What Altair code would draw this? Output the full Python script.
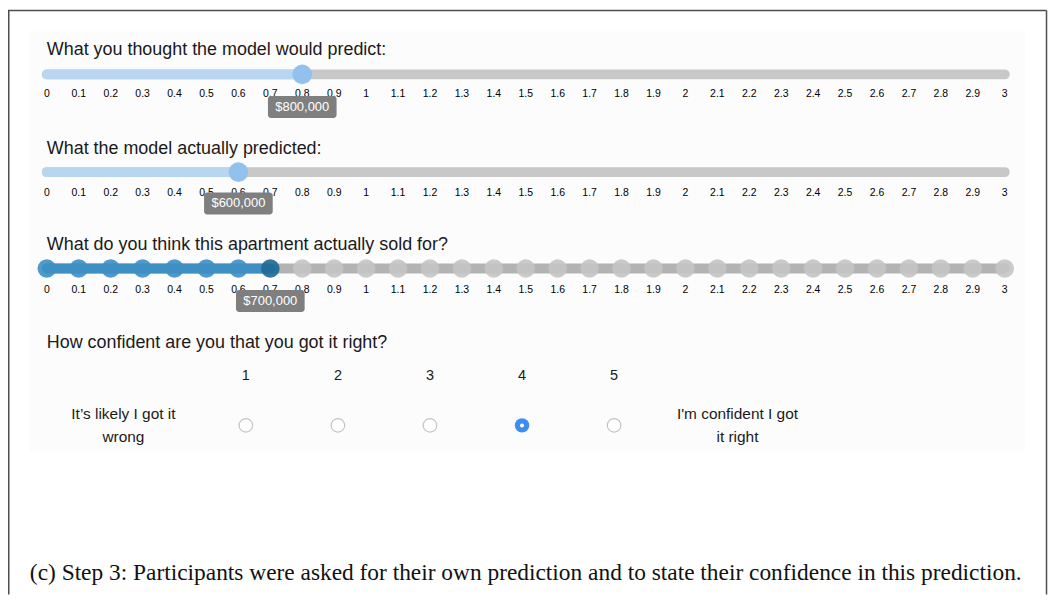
import altair as alt
import pandas as pd

# ---------------- data ----------------
TICK_LABELS = ["0", "0.1", "0.2", "0.3", "0.4", "0.5", "0.6", "0.7", "0.8", "0.9",
               "1", "1.1", "1.2", "1.3", "1.4", "1.5", "1.6", "1.7", "1.8", "1.9",
               "2", "2.1", "2.2", "2.3", "2.4", "2.5", "2.6", "2.7", "2.8", "2.9", "3"]
SLIDER_TITLES = ["What you thought the model would predict:",
                 "What the model actually predicted:",
                 "What do you think this apartment actually sold for?"]
SLIDER_VALUES = [0.8, 0.6, 0.7]
TOOLTIP_LABELS = ["$800,000", "$600,000", "$700,000"]
SLIDER_MIN, SLIDER_MAX = 0, 3

CONF_TITLE = "How confident are you that you got it right?"
CONF_LEVELS = [1, 2, 3, 4, 5]
CONF_SELECTED = 4
CONF_LOW = ["It\u2019s likely I got it", "wrong"]
CONF_HIGH = ["I'm confident I got", "it right"]

CAPTION = ("(c) Step 3: Participants were asked for their own prediction "
           "and to state their confidence in this prediction.")

# ---------------- layout / style ----------------
W, H = 1046, 588
FONT = "Liberation Sans"
TEXT = "#1a1a1a"
TITLE_Y = [41, 140, 237]
TRACK_Y = [65.3, 163.5, 260.3]
LABEL_Y = [85.5, 184, 282]
BOX_Y = [(87, 109), (184, 206), (282, 304)]
BOX_HALF = 0.1075
CONF_TITLE_Y = 335
CONF_NUM_Y = 368
RADIO_Y = 418
SIDE_Y = [407, 430]
SIDE_X = [-0.33, 6.34]
CAPTION_Y = 566

XS = alt.Scale(domain=[SLIDER_MIN, SLIDER_MAX], range=[39, 1001.5])
YS = alt.Scale(domain=[0, H], range=[0, H])
CS = alt.Scale(domain=[1, 5], range=[239, 609])

tick_vals = [float(t) for t in TICK_LABELS]

def X(f, scale=XS):
    return alt.X(f, type="quantitative", scale=scale, axis=None)

def Y(f):
    return alt.Y(f, type="quantitative", scale=YS, axis=None)

one = pd.DataFrame({"k": [0]})
layers = []

# faint panel + frame
layers.append(alt.Chart(one).mark_rect(fill="#fcfcfc").encode(
    x=alt.value(22), x2=alt.value(1022), y=alt.value(22), y2=alt.value(444)))
for enc in [dict(x=alt.value(0), x2=alt.value(1043.5), y=alt.value(1)),
            dict(x=alt.value(0.75), y=alt.value(1), y2=alt.value(H)),
            dict(x=alt.value(1043.5), y=alt.value(1), y2=alt.value(H))]:
    layers.append(alt.Chart(one).mark_rule(color="#4d4d4d", strokeWidth=1.5).encode(**enc))

# slider titles
titles = pd.DataFrame({"t": SLIDER_TITLES, "x": [SLIDER_MIN] * 3, "y": TITLE_Y})
layers.append(alt.Chart(titles).mark_text(align="left", baseline="middle", font=FONT,
                                          fontSize=18, color=TEXT).encode(
    x=X("x"), y=Y("y"), text="t:N"))

# tracks
track_rows = []
fill_cols = ["#b9d6f0", "#b9d6f0", "#3d8fc4"]
bg_cols = ["#c8c8c8", "#c8c8c8", "#b3b3b3"]
for i, v in enumerate(SLIDER_VALUES):
    track_rows.append({"x": SLIDER_MIN, "x2": SLIDER_MAX, "y": TRACK_Y[i], "c": bg_cols[i]})
    track_rows.append({"x": SLIDER_MIN, "x2": v, "y": TRACK_Y[i], "c": fill_cols[i]})
tracks = pd.DataFrame(track_rows)
layers.append(alt.Chart(tracks).mark_rule(strokeWidth=10, strokeCap="round").encode(
    x=X("x"), x2="x2:Q", y=Y("y"), color=alt.Color("c:N", scale=None)))

# step dots on the third slider
v3 = SLIDER_VALUES[2]
dots = pd.DataFrame({
    "x": tick_vals,
    "y": [TRACK_Y[2]] * len(tick_vals),
    "c": ["#1e6894" if abs(t - v3) < 1e-9 else ("#3d8fc4" if t < v3 else "#c4c4c4")
          for t in tick_vals],
})
layers.append(alt.Chart(dots).mark_circle(size=350, opacity=0.9).encode(
    x=X("x"), y=Y("y"), color=alt.Color("c:N", scale=None)))

# handles of first two sliders
handles = pd.DataFrame({"x": SLIDER_VALUES[:2], "y": TRACK_Y[:2]})
layers.append(alt.Chart(handles).mark_circle(size=390, opacity=1, color="#92c1ee").encode(
    x=X("x"), y=Y("y")))

# tick labels
lab_rows = []
for i in range(3):
    for t, v in zip(TICK_LABELS, tick_vals):
        lab_rows.append({"x": v, "y": LABEL_Y[i], "t": t})
labs = pd.DataFrame(lab_rows)
layers.append(alt.Chart(labs).mark_text(align="center", baseline="middle", font=FONT,
                                        fontSize=10.5, color="#000000").encode(
    x=X("x"), y=Y("y"), text="t:N"))

# value tooltips
tips = pd.DataFrame({
    "v": SLIDER_VALUES,
    "t": TOOLTIP_LABELS,
    "y1": [b[0] for b in BOX_Y],
    "y2": [b[1] for b in BOX_Y],
})
tip_base = alt.Chart(tips).transform_calculate(
    x1=f"datum.v - {BOX_HALF}", x2=f"datum.v + {BOX_HALF}", ym="(datum.y1 + datum.y2) / 2")
layers.append(tip_base.mark_rect(fill="#7f7f7f", cornerRadius=3).encode(
    x=X("x1"), x2="x2:Q", y=Y("y1"), y2="y2:Q"))
layers.append(tip_base.mark_text(align="center", baseline="middle", font=FONT,
                                 fontSize=13, color="white").encode(
    x=X("v"), y=Y("ym"), text="t:N"))

# confidence question
ct = pd.DataFrame({"t": [CONF_TITLE], "x": [SLIDER_MIN], "y": [CONF_TITLE_Y]})
layers.append(alt.Chart(ct).mark_text(align="left", baseline="middle", font=FONT,
                                      fontSize=18, color=TEXT).encode(
    x=X("x"), y=Y("y"), text="t:N"))

conf = pd.DataFrame({"lvl": CONF_LEVELS, "t": [str(c) for c in CONF_LEVELS],
                     "yn": [CONF_NUM_Y] * 5, "yr": [RADIO_Y] * 5})
layers.append(alt.Chart(conf).mark_text(align="center", baseline="middle", font=FONT,
                                        fontSize=14.5, color=TEXT).encode(
    x=X("lvl", CS), y=Y("yn"), text="t:N"))
unsel = conf[conf["lvl"] != CONF_SELECTED]
sel = conf[conf["lvl"] == CONF_SELECTED]
layers.append(alt.Chart(unsel).mark_circle(size=185, fill="white", opacity=1,
                                           stroke="#c4c4c4", strokeWidth=1.2).encode(
    x=X("lvl", CS), y=Y("yr")))
layers.append(alt.Chart(sel).mark_circle(size=210, color="#3d8ef0", opacity=1).encode(
    x=X("lvl", CS), y=Y("yr")))
layers.append(alt.Chart(sel).mark_circle(size=16, color="white", opacity=1).encode(
    x=X("lvl", CS), y=Y("yr")))

side_rows = []
for lines, sx in [(CONF_LOW, SIDE_X[0]), (CONF_HIGH, SIDE_X[1])]:
    for ln, yy in zip(lines, SIDE_Y):
        side_rows.append({"x": sx, "y": yy, "t": ln})
side = pd.DataFrame(side_rows)
layers.append(alt.Chart(side).mark_text(align="center", baseline="middle", font=FONT,
                                        fontSize=15.5, color=TEXT).encode(
    x=X("x", CS), y=Y("y"), text="t:N"))

# caption
cap = pd.DataFrame({"t": [CAPTION], "x": [1.5], "y": [CAPTION_Y]})
layers.append(alt.Chart(cap).mark_text(align="center", baseline="middle",
                                       font="Liberation Serif", fontSize=23.5,
                                       color="#111111").encode(
    x=X("x"), y=Y("y"), text="t:N"))

chart = alt.layer(*layers).resolve_scale(x="independent").properties(
    width=W, height=H, padding=0,
    autosize=alt.AutoSizeParams(type="none"),
).configure_view(stroke=None)

chart.save("out.html", embed_options={"renderer": "svg", "actions": False})
